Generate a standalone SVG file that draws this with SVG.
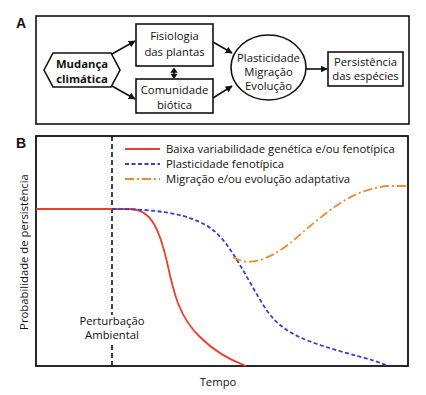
<svg xmlns="http://www.w3.org/2000/svg" width="426" height="395" viewBox="0 0 426 395">
<style>
text{font-family:"Open Sans","Liberation Sans",sans-serif;font-size:11.3px;fill:#111}
.b{font-weight:bold}
.c{text-anchor:middle}
.lbl{font-family:"Liberation Sans",sans-serif;font-weight:bold;font-size:14px}
.box{fill:#fff;stroke:#111;stroke-width:1.6}
.ln{fill:none;stroke:#111;stroke-width:1.6}
</style>
<defs>
<marker id="ah" viewBox="0 0 10 10" refX="9" refY="5" markerWidth="7" markerHeight="7" markerUnits="userSpaceOnUse" orient="auto-start-reverse">
<path d="M0,0 L10,5 L0,10 z" fill="#111"/>
</marker>
</defs>
<rect width="426" height="395" fill="#fff"/>
<text class="lbl" x="16" y="28">A</text>
<rect x="36" y="16" width="373" height="108" fill="none" stroke="#111" stroke-width="1.6"/>
<g id="connectors">
<line class="ln" x1="112" y1="54" x2="135" y2="41" marker-end="url(#ah)"/>
<line class="ln" x1="112" y1="86" x2="135" y2="99" marker-end="url(#ah)"/>
<g id="double-arrow">
<line class="ln" x1="174" y1="71" x2="174" y2="75.5"/>
<polygon points="174,67.5 170.3,72.8 177.7,72.8" fill="#111"/>
<polygon points="174,79 170.3,73.8 177.7,73.8" fill="#111"/>
</g>
<line class="ln" x1="213" y1="42" x2="232" y2="53" marker-end="url(#ah)"/>
<line class="ln" x1="213" y1="98" x2="232" y2="86" marker-end="url(#ah)"/>
<line class="ln" x1="306" y1="69" x2="327" y2="69" marker-end="url(#ah)"/>
</g>
<g id="mudanca">
<polygon class="box" points="44,70 53,53 111,53 120,70 111,87 53,87"/>
<text class="c b" x="82" y="68">Mudança</text>
<text class="c b" x="82" y="83">climática</text>
</g>
<g id="fisiologia">
<rect class="box" x="136" y="24" width="77" height="42"/>
<text class="c" x="174.5" y="40">Fisiologia</text>
<text class="c" x="174.5" y="56">das plantas</text>
</g>
<g id="comunidade">
<rect class="box" x="136" y="79" width="77" height="34"/>
<text class="c" x="174.5" y="94">Comunidade</text>
<text class="c" x="174.5" y="109">biótica</text>
</g>
<g id="plasticidade">
<ellipse class="box" cx="268.5" cy="67.5" rx="37.5" ry="32.5"/>
<text class="c" x="268.5" y="62">Plasticidade</text>
<text class="c" x="268.5" y="76">Migração</text>
<text class="c" x="268.5" y="90">Evolução</text>
</g>
<g id="persistencia">
<rect class="box" x="328" y="52" width="75" height="34"/>
<text class="c" x="365.5" y="66">Persistência</text>
<text class="c" x="365.5" y="80">das espécies</text>
</g>
<text class="lbl" x="16" y="148">B</text>
<g id="chart">
<rect x="36" y="136" width="372" height="230" fill="none" stroke="#111" stroke-width="1.8"/>
<line x1="112" y1="136" x2="112" y2="315" stroke="#111" stroke-width="1.6" stroke-dasharray="5,3"/>
<line x1="112" y1="345" x2="112" y2="366" stroke="#111" stroke-width="1.6" stroke-dasharray="5,3"/>
<text class="c" x="112" y="325">Perturbação</text>
<text class="c" x="112" y="339">Ambiental</text>
<path d="M36,209 L130,209 C152,209 160,232 167,262 C174,295 180,318 200,337 C215,352 230,360 246,366" fill="none" stroke="#e8402a" stroke-width="1.8"/>
<path d="M112,209 C150,209 190,212 213,230 C230,243 245,275 262,303 C275,325 290,335 320,345 C350,355 370,358 388,366" fill="none" stroke="#3b3bd6" stroke-width="1.8" stroke-dasharray="4,2.5"/>
<path d="M233,257 C240,262 250,263 260,260 C285,252 300,233 320,218 C345,198 360,190 386,186 L408,186" fill="none" stroke="#f08a2e" stroke-width="1.8" stroke-dasharray="9,3,2,3"/>
<line x1="125" y1="149" x2="160" y2="149" stroke="#e8402a" stroke-width="1.8"/>
<line x1="125" y1="164" x2="160" y2="164" stroke="#3b3bd6" stroke-width="1.8" stroke-dasharray="4,2.5"/>
<line x1="125" y1="179" x2="160" y2="179" stroke="#f08a2e" stroke-width="1.8" stroke-dasharray="9,3,2,3"/>
<text x="166" y="153">Baixa variabilidade genética e/ou fenotípica</text>
<text x="166" y="168">Plasticidade fenotípica</text>
<text x="166" y="183">Migração e/ou evolução adaptativa</text>
<text class="c" x="28" y="252" transform="rotate(-90 28 252)">Probabilidade de persistência</text>
<text class="c" x="218" y="386">Tempo</text>
</g>
</svg>
